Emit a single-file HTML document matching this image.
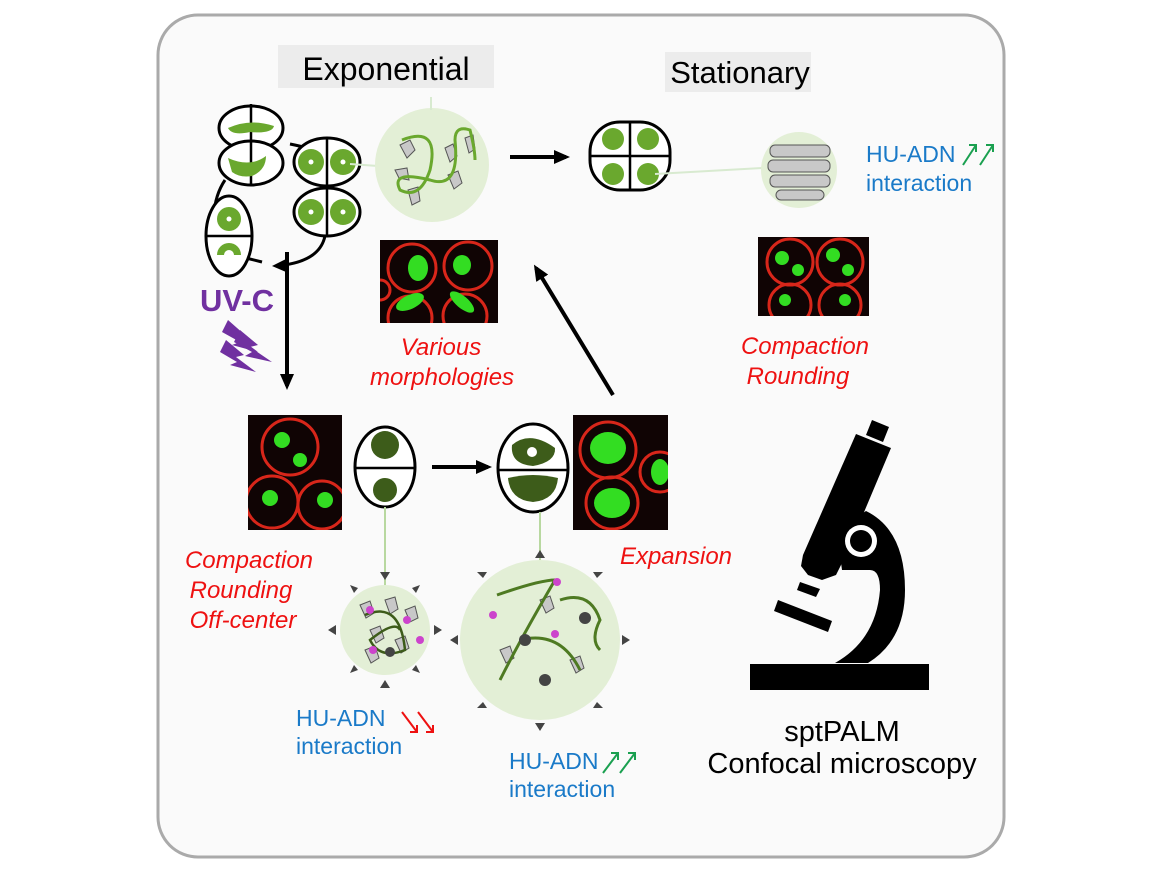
<!DOCTYPE html>
<html><head><meta charset="utf-8"><style>
html,body{margin:0;padding:0;background:#fff;}
svg{display:block;font-family:"Liberation Sans",sans-serif;}
</style></head><body>
<svg width="1163" height="872" viewBox="0 0 1163 872">
<defs>
<marker id="ah" markerWidth="4" markerHeight="4" refX="3" refY="1.75" orient="auto" markerUnits="strokeWidth"><path d="M0,0 L4,1.75 L0,3.5 z" fill="#000"/></marker>
<clipPath id="c1"><rect x="380" y="240" width="118" height="83"/></clipPath>
<clipPath id="c2"><rect x="758" y="237" width="111" height="79"/></clipPath>
<clipPath id="c3"><rect x="248" y="415" width="94" height="115"/></clipPath>
<clipPath id="c4"><rect x="573" y="415" width="95" height="115"/></clipPath>
</defs>
<rect x="158" y="15" width="846" height="842" rx="40" fill="#fafafa" stroke="#aaa" stroke-width="3"/>
<!-- titles -->
<rect x="278" y="45" width="216" height="43" fill="#ececec"/>
<text x="386" y="80" font-size="32" text-anchor="middle">Exponential</text>
<rect x="665" y="52" width="146" height="40" fill="#ececec"/>
<text x="740" y="83" font-size="31" text-anchor="middle">Stationary</text>

<!-- top-left cycle -->
<g stroke="#000" stroke-width="3" fill="none">
<path d="M290,144 Q310,148 318,152"/>
<path d="M225,180 Q215,195 214,215"/>
<path d="M325,236 Q320,260 284,265"/>
<path d="M246,258 L262,262"/>
</g>
<path d="M272,266 L288,258 L286,272z" fill="#000"/>
<g stroke="#000" stroke-width="3" fill="#fff">
<ellipse cx="251" cy="128" rx="32" ry="22"/><ellipse cx="251" cy="163" rx="32" ry="22"/>
<ellipse cx="327" cy="162" rx="33" ry="24"/><ellipse cx="327" cy="212" rx="33" ry="24"/>
<ellipse cx="229" cy="236" rx="23" ry="40"/>
</g>
<g stroke="#000" stroke-width="2.5">
<line x1="251" y1="104" x2="251" y2="186"/><line x1="327" y1="138" x2="327" y2="236"/>
<line x1="206" y1="236" x2="252" y2="236"/>
</g>
<g fill="#6aa82e">
<path d="M228,128 Q250,118 274,126 Q272,134 250,132 Q232,136 228,128z"/>
<path d="M228,158 Q250,168 266,156 Q266,170 252,176 Q240,178 232,172z"/>
<circle cx="311" cy="162" r="13"/><circle cx="343" cy="162" r="13"/>
<circle cx="311" cy="212" r="13"/><circle cx="343" cy="212" r="13"/>
<circle cx="229" cy="219" r="12"/><path d="M217,255 A12,12 0 1 1 241,255 L234,255 A5,5 0 0 0 224,255z"/>
</g>
<g fill="#fff"><circle cx="311" cy="162" r="2.5"/><circle cx="343" cy="162" r="2.5"/><circle cx="311" cy="212" r="2.5"/><circle cx="343" cy="212" r="2.5"/><circle cx="229" cy="219" r="2.5"/></g>
<line x1="350" y1="164" x2="378" y2="166" stroke="#d8ead0" stroke-width="2"/>
<circle cx="432" cy="165" r="57" fill="#e3efd6"/>
<line x1="431" y1="97" x2="431" y2="110" stroke="#d8ead0" stroke-width="2"/>
<g fill="#c8c8c8" stroke="#555" stroke-width="1">
<path d="M400,145 l10,-5 l5,10 l-8,8z"/><path d="M445,148 l8,-4 l4,12 l-7,6z"/><path d="M465,138 l8,-3 l2,14 l-6,4z"/>
<path d="M395,170 l12,-2 l2,12 l-10,-2z"/><path d="M448,175 l10,-4 l4,12 l-8,6z"/><path d="M408,190 l10,-3 l2,14 l-8,4z"/>
</g>
<path d="M402,140 Q440,125 430,170 Q420,200 400,190 Q390,170 430,180 Q460,190 455,140 Q455,125 470,130 Q475,150 475,160" stroke="#6aa82e" stroke-width="3" fill="none"/>

<!-- main arrows -->
<g stroke="#000" stroke-width="4" fill="none">
<line x1="510" y1="157" x2="566" y2="157" marker-end="url(#ah)"/>
<line x1="613" y1="395" x2="536" y2="268" marker-end="url(#ah)"/>
<line x1="287" y1="252" x2="287" y2="386" marker-end="url(#ah)"/>
<line x1="432" y1="467" x2="488" y2="467" marker-end="url(#ah)"/>
</g>

<!-- stationary cell -->
<rect x="590" y="122" width="80" height="68" rx="30" fill="#fff" stroke="#000" stroke-width="3"/>
<line x1="630" y1="122" x2="630" y2="190" stroke="#000" stroke-width="2.5"/><line x1="590" y1="156" x2="670" y2="156" stroke="#000" stroke-width="2.5"/>
<g fill="#6aa82e"><circle cx="613" cy="139" r="11"/><circle cx="648" cy="139" r="11"/><circle cx="613" cy="174" r="11"/><circle cx="648" cy="174" r="11"/></g>
<line x1="655" y1="174" x2="762" y2="168" stroke="#d8ead0" stroke-width="2"/>
<circle cx="799" cy="170" r="38" fill="#e3efd6"/>
<g fill="#c8c8c8" stroke="#555" stroke-width="1">
<rect x="770" y="145" width="60" height="12" rx="5"/><rect x="768" y="160" width="62" height="12" rx="5"/><rect x="770" y="175" width="60" height="12" rx="5"/><rect x="776" y="190" width="48" height="10" rx="5"/>
</g>
<text x="866" y="162" font-size="23" fill="#1a7ac8">HU-ADN</text>
<text x="866" y="191" font-size="23" fill="#1a7ac8">interaction</text>
<g stroke="#1aa050" stroke-width="2" fill="none"><path d="M963,165 L976,145 M969,145 L976,145 L976,152"/><path d="M980,165 L993,145 M986,145 L993,145 L993,152"/></g>

<!-- microscopy images -->
<g clip-path="url(#c1)">
<rect x="380" y="240" width="118" height="83" fill="#100404"/>
<g fill="none" stroke="#d8261a" stroke-width="3"><circle cx="412" cy="268" r="24"/><circle cx="468" cy="266" r="24"/><circle cx="410" cy="318" r="22"/><circle cx="465" cy="316" r="22"/><circle cx="380" cy="290" r="10"/></g>
<ellipse cx="418" cy="268" rx="10" ry="13" fill="#33dd22"/><ellipse cx="462" cy="265" rx="9" ry="10" fill="#33dd22"/><ellipse cx="410" cy="302" rx="15" ry="7" fill="#33dd22" transform="rotate(-25 410 302)"/><ellipse cx="462" cy="302" rx="15" ry="6" fill="#33dd22" transform="rotate(40 462 302)"/>
</g>
<g clip-path="url(#c2)">
<rect x="758" y="237" width="111" height="79" fill="#100404"/>
<g fill="none" stroke="#d8261a" stroke-width="3"><circle cx="790" cy="262" r="23"/><circle cx="840" cy="262" r="23"/><circle cx="790" cy="305" r="21"/><circle cx="840" cy="305" r="21"/></g>
<g fill="#33dd22"><circle cx="782" cy="258" r="7"/><circle cx="798" cy="270" r="6"/><circle cx="833" cy="255" r="7"/><circle cx="848" cy="270" r="6"/><circle cx="785" cy="300" r="6"/><circle cx="845" cy="300" r="6"/></g>
</g>
<g clip-path="url(#c3)">
<rect x="248" y="415" width="94" height="115" fill="#100404"/>
<g fill="none" stroke="#d8261a" stroke-width="3"><circle cx="290" cy="447" r="28"/><circle cx="272" cy="502" r="26"/><circle cx="322" cy="505" r="24"/></g>
<g fill="#33dd22"><circle cx="282" cy="440" r="8"/><circle cx="300" cy="460" r="7"/><circle cx="270" cy="498" r="8"/><circle cx="325" cy="500" r="8"/></g>
</g>
<g clip-path="url(#c4)">
<rect x="573" y="415" width="95" height="115" fill="#100404"/>
<g fill="none" stroke="#d8261a" stroke-width="3"><circle cx="608" cy="450" r="28"/><circle cx="612" cy="503" r="26"/><circle cx="660" cy="472" r="20"/></g>
<g fill="#33dd22"><ellipse cx="608" cy="448" rx="18" ry="16"/><ellipse cx="612" cy="503" rx="18" ry="15"/><ellipse cx="660" cy="472" rx="9" ry="13"/></g>
</g>

<!-- red labels -->
<g fill="#ee1111" font-size="24" font-style="italic" text-anchor="middle">
<text x="441" y="355">Various</text><text x="442" y="385">morphologies</text>
<text x="805" y="354">Compaction</text><text x="798" y="384">Rounding</text>
<text x="249" y="568">Compaction</text><text x="241" y="598">Rounding</text><text x="243" y="628">Off-center</text>
<text x="676" y="564">Expansion</text>
</g>

<!-- UV-C -->
<text x="237" y="311" font-size="31" font-weight="bold" fill="#7030a0" text-anchor="middle">UV-C</text>
<g fill="#7030a0">
<path d="M228,320 L245,335 L238,337 L258,352 L232,345 L240,342 L222,332z"/>
<path d="M240,330 L258,345 L250,347 L272,362 L245,356 L252,352 L234,342z"/>
<path d="M226,340 L244,355 L236,357 L256,372 L230,365 L237,362 L220,352z"/>
</g>

<!-- bottom cells -->
<ellipse cx="385" cy="467" rx="30" ry="40" fill="#fff" stroke="#000" stroke-width="3"/>
<line x1="355" y1="468" x2="415" y2="468" stroke="#000" stroke-width="2.5"/>
<circle cx="385" cy="445" r="14" fill="#3d5c1a"/><circle cx="385" cy="490" r="12" fill="#3d5c1a"/>
<ellipse cx="533" cy="468" rx="35" ry="44" fill="#fff" stroke="#000" stroke-width="3"/>
<line x1="498" y1="470" x2="568" y2="470" stroke="#000" stroke-width="2.5"/>
<path d="M512,445 Q530,430 555,448 Q556,462 533,466 Q510,464 512,445z" fill="#3d5c1a"/>
<circle cx="532" cy="452" r="5" fill="#fff"/>
<path d="M508,478 Q533,472 558,478 Q556,500 533,502 Q510,500 508,478z" fill="#3d5c1a"/>
<line x1="385" y1="507" x2="385" y2="585" stroke="#b8d8a0" stroke-width="2"/>
<line x1="540" y1="512" x2="540" y2="560" stroke="#b8d8a0" stroke-width="2"/>
<circle cx="385" cy="630" r="45" fill="#e3efd6"/>
<circle cx="540" cy="640" r="80" fill="#e3efd6"/>
<g fill="#c8c8c8" stroke="#555" stroke-width="1">
<path d="M360,605 l10,-4 l4,12 l-8,5z"/><path d="M385,600 l10,-3 l3,12 l-8,5z"/><path d="M405,610 l10,-4 l3,12 l-8,4z"/><path d="M370,630 l10,-4 l4,12 l-8,5z"/><path d="M395,640 l10,-4 l4,12 l-8,5z"/><path d="M365,650 l10,-4 l4,12 l-8,5z"/>
<path d="M540,600 l10,-4 l4,12 l-8,5z"/><path d="M500,650 l10,-4 l4,12 l-8,5z"/><path d="M570,660 l10,-4 l4,12 l-8,5z"/>
</g>
<path d="M365,615 Q400,600 405,650 Q380,660 370,640 Q395,620 400,630" stroke="#3d5c1a" stroke-width="2.5" fill="none"/>
<path d="M497,595 Q540,580 555,580 Q520,640 500,680 M520,640 Q560,630 580,670 M560,600 Q590,590 600,620 Q590,640 600,650" stroke="#4e7a22" stroke-width="3" fill="none"/>
<g fill="#444"><circle cx="525" cy="640" r="6"/><circle cx="545" cy="680" r="6"/><circle cx="390" cy="652" r="5"/><circle cx="585" cy="618" r="6"/></g>
<g fill="#cc44cc"><circle cx="370" cy="610" r="4"/><circle cx="407" cy="620" r="4"/><circle cx="420" cy="640" r="4"/><circle cx="373" cy="650" r="4"/><circle cx="493" cy="615" r="4"/><circle cx="557" cy="582" r="4"/><circle cx="555" cy="634" r="4"/></g>
<g fill="#444">
<path d="M380,572 l10,0 l-5,8z"/><path d="M380,688 l10,0 l-5,-8z"/><path d="M336,625 l0,10 l-8,-5z"/><path d="M434,625 l0,10 l8,-5z"/>
<path d="M350,585 l8,3 l-4,5z"/><path d="M420,585 l-8,3 l4,5z"/><path d="M350,673 l8,-3 l-4,-5z"/><path d="M420,673 l-8,-3 l4,-5z"/>
<path d="M535,558 l10,0 l-5,-8z"/><path d="M535,723 l10,0 l-5,8z"/><path d="M458,635 l0,10 l-8,-5z"/><path d="M622,635 l0,10 l8,-5z"/>
<path d="M483,578 l-6,-6 l10,0z"/><path d="M597,578 l6,-6 l-10,0z"/><path d="M483,702 l-6,6 l10,0z"/><path d="M597,702 l6,6 l-10,0z"/>
</g>
<text x="296" y="726" font-size="23" fill="#1a7ac8">HU-ADN</text>
<text x="296" y="754" font-size="23" fill="#1a7ac8">interaction</text>
<g stroke="#ee1111" stroke-width="2" fill="none"><path d="M402,712 L417,732 M410,732 L417,732 L417,725"/><path d="M418,712 L433,732 M426,732 L433,732 L433,725"/></g>
<text x="509" y="769" font-size="23" fill="#1a7ac8">HU-ADN</text>
<text x="509" y="797" font-size="23" fill="#1a7ac8">interaction</text>
<g stroke="#1aa050" stroke-width="2" fill="none"><path d="M603,773 L618,753 M611,753 L618,753 L618,760"/><path d="M620,773 L635,753 M628,753 L635,753 L635,760"/></g>

<!-- microscope -->
<g fill="#000">
<polygon points="872,420 889,427 883,442 866,435"/>
<polygon points="856,434 891,448 846,555 836,575 822,580 808,575 801,566 803,555"/>
<polygon points="800,582 820,589 816,597 797,590"/>
<path d="M866,511 Q905,530 905,590 Q905,640 868,663 L835,663 Q876,640 880,590 Q880,570 870,570 L842,570 Q835,530 866,511z"/>
<circle cx="861" cy="541" r="22"/>
<polygon points="778,600 832,621 828,632 774,611"/>
<rect x="750" y="664" width="179" height="26"/>
</g>
<circle cx="861" cy="541" r="16" fill="#fff"/><circle cx="861" cy="541" r="11" fill="#000"/>
<text x="842" y="741" font-size="29" text-anchor="middle">sptPALM</text>
<text x="842" y="773" font-size="29" text-anchor="middle">Confocal microscopy</text>
</svg>
</body></html>
